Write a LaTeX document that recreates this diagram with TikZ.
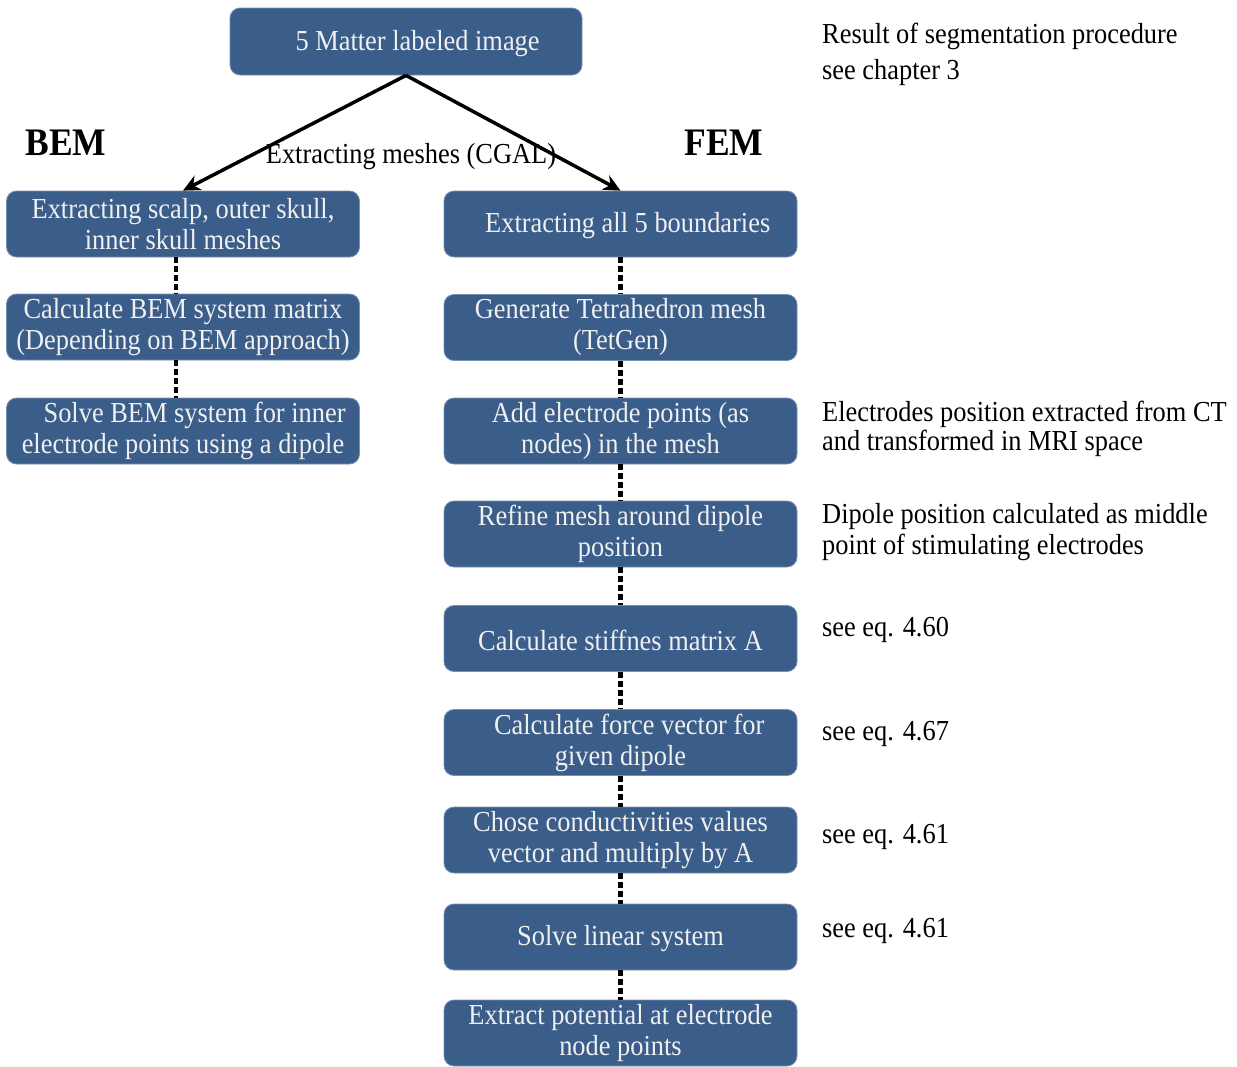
\documentclass[tikz,border=0pt]{standalone}
\usepackage{fontspec}
\setmainfont{Liberation Serif}[FakeStretch=0.91]
\usetikzlibrary{arrows.meta}
\definecolor{boxblue}{HTML}{3A5D8A}
\definecolor{boxedge}{HTML}{7890B0}
\newcommand{\lowtxt}[1]{\raisebox{-2pt}[\height][\depth]{#1}}
\begin{document}
\begin{tikzpicture}[x=1pt,y=-1pt,
 box/.style={draw=boxedge, line width=0.8pt, fill=boxblue, rounded corners=10pt, minimum width=353pt, minimum height=66pt, text=white!94!black, align=center, font=\fontsize{29}{31}\selectfont, inner sep=0pt},
 note/.style={anchor=west, align=left, font=\fontsize{29}{30}\selectfont, inner sep=0pt},
 head/.style={font=\bfseries\fontsize{39}{40}\selectfont, inner sep=0pt},
 conn/.style={line width=4.5pt, dash pattern=on 6pt off 3pt},
 arr/.style={line width=3.5pt, -{Stealth[length=17pt,width=16pt]}}
]
\path[use as bounding box] (0,0) rectangle (1237,1066);

\node[box, minimum width=352pt, minimum height=67pt] (top) at (406,41.5) {\lowtxt{\hspace*{0.8em}5 Matter labeled image}};
\node[head] (bem) at (66,143) {BEM};
\node[head] (fem) at (724,143) {FEM};

\node[box] (b1) at (183,224) {Extracting scalp, outer skull,\\inner skull meshes};
\node[box] (b2) at (183,327) {Calculate BEM system matrix\\(Depending on BEM approach)};
\node[box] (b3) at (183,431) {\hspace*{0.8em}Solve BEM system for inner\\electrode points using a dipole};

\node[box] (f1) at (620.5,224) {\lowtxt{\hspace*{0.5em}Extracting all 5 boundaries}};
\node[box] (f2) at (620.5,327.5) {Generate Tetrahedron mesh\\(TetGen)};
\node[box] (f3) at (620.5,431) {Add electrode points (as\\nodes) in the mesh};
\node[box] (f4) at (620.5,534) {Refine mesh around dipole\\position};
\node[box] (f5) at (620.5,638.5) {\lowtxt{Calculate stiffnes matrix A}};
\node[box] (f6) at (620.5,742.5) {\hspace*{0.6em}Calculate force vector for\\given dipole};
\node[box] (f7) at (620.5,840) {Chose conductivities values\\vector and multiply by A};
\node[box] (f8) at (620.5,937) {\lowtxt{Solve linear system}};
\node[box] (f9) at (620.5,1033) {Extract potential at electrode\\node points};

\draw[arr] (top.south) -- (b1.north);
\draw[arr] (top.south) -- (f1.north);
\node[inner sep=0pt, font=\fontsize{29}{31}\selectfont] (cgal) at (411,157) {Extracting meshes (CGAL)};

\draw[conn] ([xshift=-7pt]b1.south) -- ([xshift=-7pt]b2.north);
\draw[conn] ([xshift=-7pt]b2.south) -- ([xshift=-7pt]b3.north);
\foreach \a/\b in {f1/f2,f2/f3,f3/f4,f4/f5,f5/f6,f6/f7,f7/f8,f8/f9}
  \draw[conn] (\a.south) -- (\b.north);

\node[note] (n0) at (822,36) {Result of segmentation procedure};
\node[note] (n0b) at (822,73) {see chapter 3};
\node[note, font=\fontsize{29}{29}\selectfont] (n1) at (822,429) {Electrodes position extracted from CT\\and transformed in MRI space};
\node[note, font=\fontsize{29}{31}\selectfont] (n2) at (822,532.5) {Dipole position calculated as middle\\point of stimulating electrodes};
\node[note] (n3) at (822,630) {see eq. 4.60};
\node[note] (n4) at (822,734) {see eq. 4.67};
\node[note] (n5) at (822,837) {see eq. 4.61};
\node[note] (n6) at (822,931) {see eq. 4.61};
\end{tikzpicture}
\end{document}
